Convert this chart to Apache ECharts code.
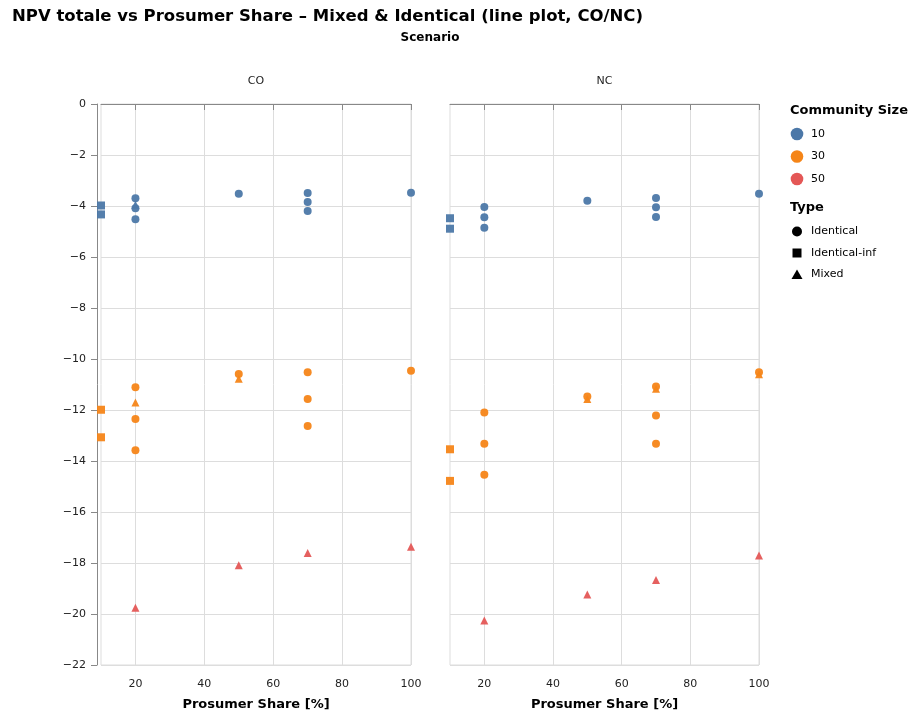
<!DOCTYPE html>
<html>
<head>
<meta charset="utf-8">
<script src="https://cdn.jsdelivr.net/npm/echarts@6/dist/echarts.min.js"></script>
<style>
  html, body { margin: 0; padding: 0; background: #fff; }
  #chart { width: 918px; height: 717px; }
</style>
</head>
<body>
<div id="chart"></div>
<script>
// Facets, groups and tick values
const scenarios = ['CO', 'NC'];
const communitySizes = ['10', '30', '50'];
const typeNames = ['Identical', 'Identical-inf', 'Mixed'];
const xTickValues = [20, 40, 60, 80, 100];

// NPV totale per scenario, community size and type: [prosumer share %, NPV]
const co10Identical    = [[20, -3.70], [20, -4.09], [20, -4.52], [50, -3.52], [70, -3.49], [70, -3.84], [70, -4.20], [100, -3.48]];
const co10IdenticalInf = [[10, -3.98], [10, -4.33]];
const co10Mixed        = [[20, -3.95]];
const co30Identical    = [[20, -11.11], [20, -12.35], [20, -13.58], [50, -10.59], [70, -10.52], [70, -11.57], [70, -12.63], [100, -10.46]];
const co30IdenticalInf = [[10, -11.99], [10, -13.07]];
const co30Mixed        = [[20, -11.71], [50, -10.77]];
const co50Mixed        = [[20, -19.75], [50, -18.09], [70, -17.61], [100, -17.36]];

const nc10Identical    = [[20, -4.04], [20, -4.44], [20, -4.85], [50, -3.79], [70, -3.69], [70, -4.05], [70, -4.43], [100, -3.52]];
const nc10IdenticalInf = [[10, -4.48], [10, -4.89]];
const nc30Identical    = [[20, -12.10], [20, -13.32], [20, -14.54], [50, -11.47], [70, -11.08], [70, -12.22], [70, -13.32], [100, -10.52]];
const nc30IdenticalInf = [[10, -13.54], [10, -14.78]];
const nc30Mixed        = [[50, -11.57], [70, -11.17], [100, -10.60]];
const nc50Mixed        = [[20, -20.25], [50, -19.24], [70, -18.67], [100, -17.71]];

// Styling
const FONT = 'DejaVu Sans, Verdana, sans-serif';
const sizeColor = { '10': '#4c78a8', '30': '#f58518', '50': '#e45756' };
const typeSymbol = { 'Identical': 'circle', 'Identical-inf': 'rect', 'Mixed': 'triangle' };
const typeSymbolSize = { 'Identical': 8, 'Identical-inf': 8, 'Mixed': 8 };

const groups = [
  { panel: 0, size: '10', type: 'Identical-inf', data: co10IdenticalInf },
  { panel: 0, size: '10', type: 'Identical', data: co10Identical },
  { panel: 0, size: '10', type: 'Mixed', data: co10Mixed },
  { panel: 0, size: '30', type: 'Identical-inf', data: co30IdenticalInf },
  { panel: 0, size: '30', type: 'Mixed', data: co30Mixed },
  { panel: 0, size: '30', type: 'Identical', data: co30Identical },
  { panel: 0, size: '50', type: 'Mixed', data: co50Mixed },
  { panel: 1, size: '10', type: 'Identical-inf', data: nc10IdenticalInf },
  { panel: 1, size: '10', type: 'Identical', data: nc10Identical },
  { panel: 1, size: '30', type: 'Identical-inf', data: nc30IdenticalInf },
  { panel: 1, size: '30', type: 'Mixed', data: nc30Mixed },
  { panel: 1, size: '30', type: 'Identical', data: nc30Identical },
  { panel: 1, size: '50', type: 'Mixed', data: nc50Mixed }
];

const panelBoxes = [
  { left: 101, top: 104, width: 310, height: 561 },
  { left: 450, top: 104, width: 309, height: 561 }
];

const grids = panelBoxes.map(b => ({
  left: b.left, top: b.top, width: b.width, height: b.height,
  show: true, borderColor: '#dddddd', borderWidth: 1, backgroundColor: 'transparent'
}));

const minusFmt = v => String(v).replace('-', '\u2212');

const xAxes = panelBoxes.map((b, i) => ({
  type: 'value', gridIndex: i, min: 10, max: 100,
  name: 'Prosumer Share [%]', nameLocation: 'middle', nameGap: 33,
  nameTextStyle: { fontFamily: FONT, fontWeight: 'bold', fontSize: 13, color: '#000' },
  axisLine: { show: true, lineStyle: { color: '#888', width: 1 } },
  axisTick: { show: true, length: 6, lineStyle: { color: '#888' }, customValues: xTickValues },
  axisLabel: { fontFamily: FONT, fontSize: 11, color: '#222', margin: 14, customValues: xTickValues },
  splitLine: { show: true, lineStyle: { color: '#dddddd', width: 1 } }
}));

const yAxes = panelBoxes.map((b, i) => ({
  type: 'value', gridIndex: i, min: -22, max: 0, interval: 2,
  offset: i === 0 ? 4 : 0,
  axisLine: { show: i === 0, onZero: false, lineStyle: { color: '#888', width: 1 } },
  axisTick: { show: i === 0, length: 6, lineStyle: { color: '#888' } },
  axisLabel: { show: i === 0, fontFamily: FONT, fontSize: 11, color: '#222', margin: 11, formatter: minusFmt },
  splitLine: { show: true, lineStyle: { color: '#dddddd', width: 1 } }
}));

const series = groups.map(g => ({
  type: 'scatter',
  name: g.size + ' ' + g.type,
  xAxisIndex: g.panel, yAxisIndex: g.panel,
  clip: false,
  symbol: typeSymbol[g.type],
  symbolSize: typeSymbolSize[g.type],
  itemStyle: { color: sizeColor[g.size], opacity: 0.95 },
  emphasis: { disabled: true },
  data: g.data
}));

// Facet headers, column title and legend
const graphics = [];
scenarios.forEach((s, i) => {
  const b = panelBoxes[i];
  graphics.push({
    type: 'text', x: b.left + b.width / 2, y: 81,
    style: { text: s, font: '11px ' + FONT, fill: '#222', align: 'center', verticalAlign: 'middle' }
  });
});
graphics.push({
  type: 'text', x: 430, y: 38,
  style: { text: 'Scenario', font: 'bold 12px ' + FONT, fill: '#000', align: 'center', verticalAlign: 'middle' }
});

const LX = 797, LTX = 811;
graphics.push({
  type: 'text', x: 790, y: 111,
  style: { text: 'Community Size', font: 'bold 13px ' + FONT, fill: '#000', verticalAlign: 'middle' }
});
communitySizes.forEach((s, i) => {
  const cy = 134 + i * 22.5;
  graphics.push({ type: 'circle', shape: { cx: LX, cy: cy, r: 6.3 }, style: { fill: sizeColor[s] } });
  graphics.push({
    type: 'text', x: LTX, y: cy,
    style: { text: s, font: '11px ' + FONT, fill: '#000', verticalAlign: 'middle' }
  });
});
graphics.push({
  type: 'text', x: 790, y: 208,
  style: { text: 'Type', font: 'bold 13px ' + FONT, fill: '#000', verticalAlign: 'middle' }
});
typeNames.forEach((t, i) => {
  const cy = 231.5 + i * 21.5;
  if (typeSymbol[t] === 'circle') {
    graphics.push({ type: 'circle', shape: { cx: LX, cy: cy, r: 5 }, style: { fill: '#000' } });
  } else if (typeSymbol[t] === 'rect') {
    graphics.push({ type: 'rect', shape: { x: LX - 4.5, y: cy - 4.5, width: 9, height: 9 }, style: { fill: '#000' } });
  } else {
    graphics.push({ type: 'polygon', shape: { points: [[LX, cy - 5], [LX + 5.5, cy + 4.5], [LX - 5.5, cy + 4.5]] }, style: { fill: '#000' } });
  }
  graphics.push({
    type: 'text', x: LTX, y: cy,
    style: { text: t, font: '11px ' + FONT, fill: '#000', verticalAlign: 'middle' }
  });
});

const chart = echarts.init(document.getElementById('chart'), null, { renderer: 'canvas' });
chart.setOption({
  animation: false,
  backgroundColor: '#ffffff',
  title: {
    text: 'NPV totale vs Prosumer Share \u2013 Mixed & Identical (line plot, CO/NC)',
    left: 7, top: 3,
    textStyle: { fontFamily: FONT, fontWeight: 'bold', fontSize: 16.5, color: '#000' }
  },
  grid: grids,
  xAxis: xAxes,
  yAxis: yAxes,
  series: series,
  graphic: graphics
});
</script>
</body>
</html>
